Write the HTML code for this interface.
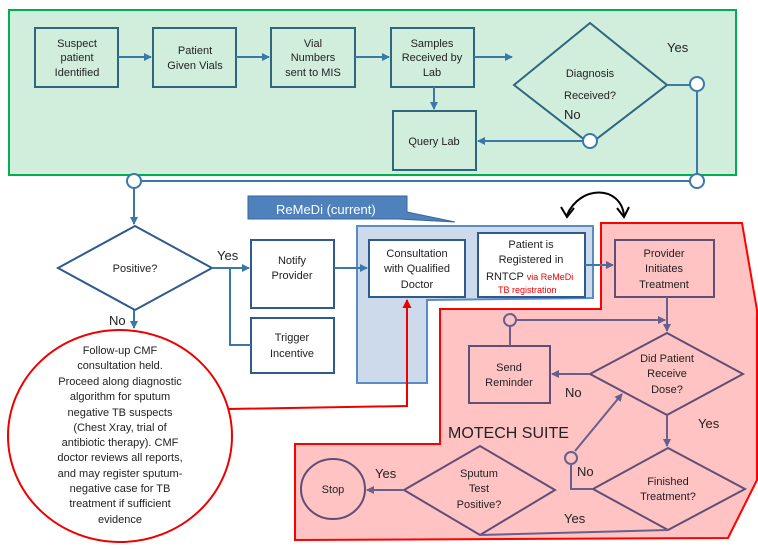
<!DOCTYPE html>
<html><head><meta charset="utf-8"><style>
html,body{margin:0;padding:0;background:#fff;}
svg{display:block;}
text{font-family:"Liberation Sans",sans-serif;}
</style></head><body>
<svg width="758" height="549" viewBox="0 0 758 549" xmlns="http://www.w3.org/2000/svg" font-size="11" fill="#222">
<defs>
<marker id="ab" markerWidth="8" markerHeight="8" refX="7" refY="4" orient="auto" markerUnits="userSpaceOnUse"><path d="M0,0 L8,4 L0,8 z" fill="#3a78a8"/></marker>
<marker id="ap" markerWidth="8" markerHeight="8" refX="7" refY="4" orient="auto" markerUnits="userSpaceOnUse"><path d="M0,0 L8,4 L0,8 z" fill="#66608a"/></marker>
<marker id="ar" markerWidth="9" markerHeight="9" refX="8" refY="4.5" orient="auto" markerUnits="userSpaceOnUse"><path d="M0,0 L9,4.5 L0,9 z" fill="#e00"/></marker>
</defs>
<!-- green region -->
<rect x="9" y="10" width="727" height="165" fill="#d1eedd" stroke="#00b050" stroke-width="2"/>
<g fill="none" stroke="#2e6680" stroke-width="2">
<rect x="35" y="28" width="83" height="59"/>
<rect x="153" y="28" width="83" height="59"/>
<rect x="271" y="28" width="84" height="59"/>
<rect x="391" y="28" width="83" height="59"/>
<rect x="393" y="111" width="83" height="59"/>
<polygon points="514,85 590,23 667,85 590,144"/>
</g>
<g stroke="#3a78a8" stroke-width="2" fill="none">
<line x1="118" y1="57" x2="151" y2="57" marker-end="url(#ab)"/>
<line x1="236" y1="57" x2="269" y2="57" marker-end="url(#ab)"/>
<line x1="355" y1="57" x2="389" y2="57" marker-end="url(#ab)"/>
<line x1="474" y1="57" x2="512" y2="57" marker-end="url(#ab)"/>
<line x1="434" y1="87" x2="434" y2="109" marker-end="url(#ab)"/>
<line x1="667" y1="85" x2="690" y2="85"/>
<line x1="697" y1="92" x2="697" y2="174"/>
<line x1="590" y1="144" x2="590" y2="134"/>
<line x1="583" y1="141" x2="478" y2="141" marker-end="url(#ab)"/>
<line x1="141" y1="181" x2="690" y2="181"/>
<line x1="134" y1="188" x2="134" y2="224" marker-end="url(#ab)"/>
</g>
<g fill="#fff" stroke="#3a78a8" stroke-width="2">
<circle cx="697" cy="84" r="7"/><circle cx="590" cy="141" r="7"/>
<circle cx="134" cy="181" r="7"/><circle cx="697" cy="181" r="7"/>
</g>
<g text-anchor="middle">
<text x="77" y="47">Suspect</text><text x="77" y="61">patient</text><text x="77" y="76">Identified</text>
<text x="195" y="54">Patient</text><text x="195" y="69">Given Vials</text>
<text x="313" y="47">Vial</text><text x="313" y="61">Numbers</text><text x="313" y="76">sent to MIS</text>
<text x="432" y="47">Samples</text><text x="432" y="61">Received by</text><text x="432" y="76">Lab</text>
<text x="590" y="77">Diagnosis</text><text x="590" y="99">Received?</text>
<text x="434" y="145">Query Lab</text>
</g>
<text x="667" y="52" font-size="13">Yes</text>
<text x="564" y="119" font-size="13">No</text>

<!-- red region -->
<polygon points="601,223 742,223 757,310 757,480 728,538 295,540 295,444 440,444 440,309 601,309" fill="#ffc3c3" stroke="#f00" stroke-width="2"/>
<!-- blue region -->
<polygon points="357,226 593,226 593,298 427,300 427,383 357,383" fill="#ccdaeb" stroke="#5b8bc4" stroke-width="2"/>
<polygon points="248,196 407,196 407,212 455,222 398,219 248,219" fill="#4f81bd" stroke="#3a6698" stroke-width="1"/>
<text x="276" y="214" font-size="13" fill="#fff">ReMeDi (current)</text>

<g fill="#fff" stroke="#2e5a8c" stroke-width="2">
<rect x="369" y="240" width="96" height="57"/>
<rect x="478" y="233" width="107" height="64"/>
<rect x="251" y="240" width="83" height="68"/>
<rect x="251" y="318" width="83" height="55"/>
<polygon points="58,268 135,226 212,268 135,310"/>
</g>
<g stroke="#3a78a8" stroke-width="2" fill="none">
<line x1="212" y1="268" x2="249" y2="268" marker-end="url(#ab)"/>
<polyline points="230,268 230,345 251,345"/>
<line x1="334" y1="268" x2="367" y2="268" marker-end="url(#ab)"/>
<line x1="585" y1="265" x2="613" y2="265" marker-end="url(#ap)"/>
<line x1="134" y1="310" x2="134" y2="328" marker-end="url(#ab)"/>
</g>
<g text-anchor="middle">
<text x="135" y="272">Positive?</text>
<text x="292" y="264">Notify</text><text x="292" y="279">Provider</text>
<text x="292" y="341">Trigger</text><text x="292" y="357">Incentive</text>
<text x="417" y="257">Consultation</text><text x="417" y="272">with Qualified</text><text x="417" y="288">Doctor</text>
<text x="531" y="248">Patient is</text><text x="531" y="263">Registered in</text>
</g>
<text x="486" y="280">RNTCP <tspan font-size="9" fill="#e00">via ReMeDi</tspan></text>
<text x="498" y="293" font-size="9" fill="#e00">TB registration</text>
<text x="217" y="260" font-size="13">Yes</text>
<text x="109" y="325" font-size="13">No</text>

<!-- curved arrow -->
<path d="M567,215 C580,185 620,185 624,215" fill="none" stroke="#000" stroke-width="2"/>
<path d="M561,207 L567,217 L574,208 M617,208 L624,217 L629,207" fill="none" stroke="#000" stroke-width="2"/>

<!-- red ellipse -->
<ellipse cx="120" cy="436" rx="112" ry="106" fill="#fff" stroke="#e00" stroke-width="2"/>
<g text-anchor="middle" font-size="11">
<text x="120" y="354">Follow-up CMF</text>
<text x="120" y="369">consultation held.</text>
<text x="120" y="385">Proceed along diagnostic</text>
<text x="120" y="400">algorithm for sputum</text>
<text x="120" y="416">negative TB suspects</text>
<text x="120" y="431">(Chest Xray, trial of</text>
<text x="120" y="446">antibiotic therapy). CMF</text>
<text x="120" y="461">doctor reviews all reports,</text>
<text x="120" y="477">and may register sputum-</text>
<text x="120" y="492">negative case for TB</text>
<text x="120" y="507">treatment if sufficient</text>
<text x="120" y="523">evidence</text>
</g>
<polyline points="229,409 407,406 407,300" fill="none" stroke="#e00" stroke-width="2" marker-end="url(#ar)"/>

<!-- motech -->
<g fill="none" stroke="#5e4f77" stroke-width="2">
<rect x="615" y="240" width="99" height="57"/>
<rect x="469" y="346" width="81" height="57"/>
<polygon points="590,374 667,333 743,374 667,415"/>
<polygon points="593,489 668,448 745,489 668,530"/>
<polygon points="404,490 480,446 555,490 480,535"/>
<ellipse cx="333" cy="489" rx="32" ry="30"/>
</g>
<g stroke="#66608a" stroke-width="2" fill="none">
<line x1="667" y1="297" x2="667" y2="331" marker-end="url(#ap)"/>
<line x1="517" y1="320" x2="665" y2="320" marker-end="url(#ap)"/>
<line x1="510" y1="327" x2="510" y2="346"/>
<line x1="590" y1="374" x2="552" y2="374" marker-end="url(#ap)"/>
<line x1="667" y1="415" x2="667" y2="446" marker-end="url(#ap)"/>
<polyline points="593,489 571,489 571,465"/>
<line x1="575" y1="451" x2="622" y2="394" marker-end="url(#ap)"/>
<polyline points="668,530 480,535"/>
<line x1="404" y1="490" x2="367" y2="490" marker-end="url(#ap)"/>
</g>
<g fill="#ffc3c3" stroke="#66608a" stroke-width="2">
<circle cx="510" cy="320" r="6"/><circle cx="571" cy="458" r="6"/>
</g>
<g text-anchor="middle">
<text x="664" y="257">Provider</text><text x="664" y="272">Initiates</text><text x="664" y="288">Treatment</text>
<text x="509" y="371">Send</text><text x="509" y="386">Reminder</text>
<text x="667" y="362">Did Patient</text><text x="667" y="377">Receive</text><text x="667" y="393">Dose?</text>
<text x="668" y="485">Finished</text><text x="668" y="500">Treatment?</text>
<text x="479" y="477">Sputum</text><text x="479" y="492">Test</text><text x="479" y="508">Positive?</text>
<text x="333" y="493">Stop</text>
</g>
<text x="448" y="438" font-size="16">MOTECH SUITE</text>
<text x="565" y="397" font-size="13">No</text>
<text x="698" y="428" font-size="13">Yes</text>
<text x="577" y="476" font-size="13">No</text>
<text x="375" y="478" font-size="13">Yes</text>
<text x="564" y="523" font-size="13">Yes</text>
</svg>
</body></html>
